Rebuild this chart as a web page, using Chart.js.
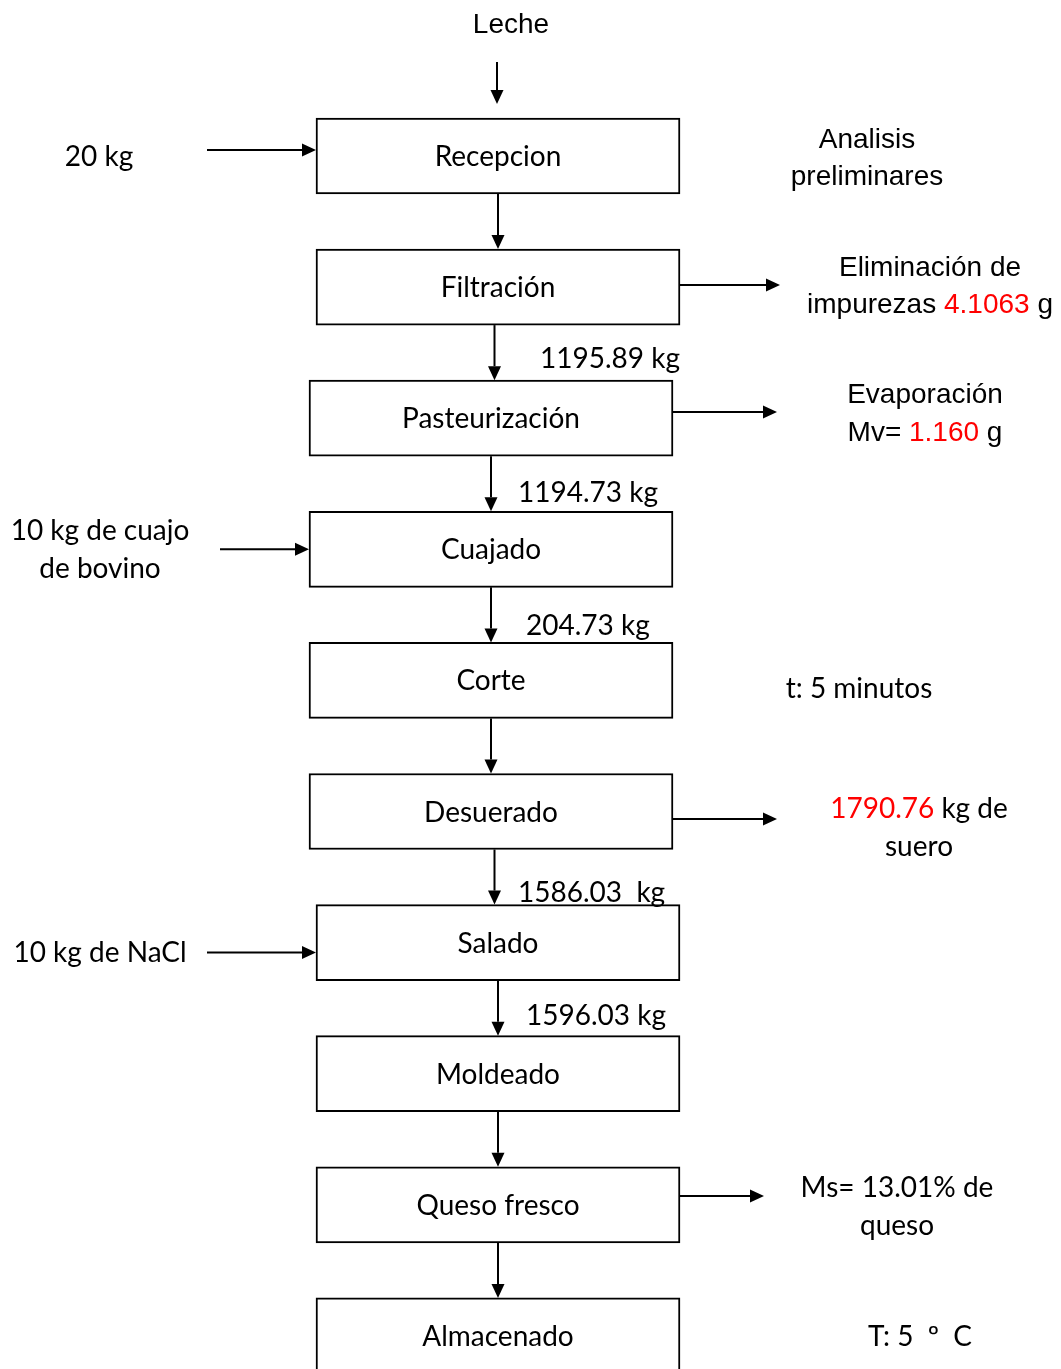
<!DOCTYPE html>
<html>
<head>
<meta charset="utf-8">
<script src="https://cdn.jsdelivr.net/npm/chart.js@4.4.1/dist/chart.umd.min.js"></script>
<style>
  html, body { margin: 0; padding: 0; background: #fff; }
  #wrap { width: 1061px; height: 1369px; }
</style>
</head>
<body>
<div id="wrap"><canvas id="flow" width="1061" height="1369"></canvas></div>
<script>
// Process steps (one box each, top to bottom)
const steps = ['Recepcion', 'Filtración', 'Pasteurización', 'Cuajado', 'Corte',
               'Desuerado', 'Salado', 'Moldeado', 'Queso fresco', 'Almacenado'];

// Mass carried on the arrow into step i+1
const flowLabels = ['', '1195.89 kg', '1194.73 kg', '204.73 kg', '', '1586.03  kg', '1596.03 kg', '', ''];

// Inputs on the left: step index and text lines
const inputRows = [0, 3, 6];
const inputTexts = [['20 kg'], ['10 kg de cuajo', 'de bovino'], ['10 kg de NaCl']];

// Notes on the right: step index, whether an arrow points to it, lines as [text, red?] segments
const noteRows = [0, 1, 2, 4, 5, 8, 9];
const noteArrows = [false, true, true, false, true, true, false];
const noteTexts = [
  [[['Analisis', 0]], [['preliminares', 0]]],
  [[['Eliminación de', 0]], [['impurezas ', 0], ['4.1063', 1], [' g', 0]]],
  [[['Evaporación', 0]], [['Mv= ', 0], ['1.160', 1], [' g', 0]]],
  [[['t: 5 minutos', 0]]],
  [[['1790.76', 1], [' kg de', 0]], [['suero', 0]]],
  [[['Ms= 13.01% de', 0]], [['queso', 0]]],
  [[['T: 5  º  C', 0]]]
];

// ---- layout (pixels in the chart's own value space) ----
const W = 1061, H = 1369;
const rowTop = i => 118 + i * 131.1;
const boxH = 76, boxW = 364;
const boxLeft = i => (i >= 2 && i <= 5) ? 309 : 316;
const boxCx = i => boxLeft(i) + boxW / 2;
const inLayout = [{x0: 207, dy: -6, tx: 99, ty: [1]}, {x0: 220, dy: 0, tx: 100, ty: [-18, 20]}, {x0: 207, dy: 10, tx: 100, ty: [10]}];
const noteLayout = [
  {x1: 0, ay: 0, tx: 867, ty: [140, 177], arial: true},
  {x1: 780, ay: 285, tx: 930, ty: [268, 305], arial: true},
  {x1: 777, ay: 412, tx: 925, ty: [395, 433], arial: true},
  {x1: 0, ay: 0, tx: 859, ty: [689], arial: false},
  {x1: 777, ay: 819, tx: 919, ty: [809, 847], arial: false},
  {x1: 764, ay: 1196, tx: 897, ty: [1188, 1226], arial: false},
  {x1: 0, ay: 0, tx: 920, ty: [1337], arial: false}
];
const flowLabelX = [0, 540, 518, 526, 0, 518, 526, 0, 0];
const flowLabelY = [0, 359, 493, 626, 0, 893, 1016, 0, 0];

const bodyFont = '28px Lato, "Open Sans", sans-serif';
const arialFont = '28px "Liberation Sans", Arial, sans-serif';
const RED = '#ff0000';

function arrow(ctx, sx, sy, x1, y1, x2, y2) {
  const ax = sx.getPixelForValue(x1), ay = sy.getPixelForValue(y1);
  const bx = sx.getPixelForValue(x2), by = sy.getPixelForValue(y2);
  const ang = Math.atan2(by - ay, bx - ax);
  const len = 14, half = 6.5;
  ctx.beginPath();
  ctx.moveTo(ax, ay);
  ctx.lineTo(bx - len * Math.cos(ang), by - len * Math.sin(ang));
  ctx.stroke();
  ctx.beginPath();
  ctx.moveTo(bx, by);
  ctx.lineTo(bx - len * Math.cos(ang) - half * Math.sin(ang), by - len * Math.sin(ang) + half * Math.cos(ang));
  ctx.lineTo(bx - len * Math.cos(ang) + half * Math.sin(ang), by - len * Math.sin(ang) - half * Math.cos(ang));
  ctx.closePath();
  ctx.fill();
}

function richLine(ctx, segs, cx, y) {
  const total = segs.reduce((s, g) => s + ctx.measureText(g[0]).width, 0);
  let x = cx - total / 2;
  ctx.textAlign = 'left';
  segs.forEach(g => {
    ctx.fillStyle = g[1] ? RED : '#000';
    ctx.fillText(g[0], x, y);
    x += ctx.measureText(g[0]).width;
  });
}

const flowPlugin = {
  id: 'flowPlugin',
  afterDatasetsDraw(chart) {
    const ctx = chart.ctx;
    const sx = chart.scales.x, sy = chart.scales.y;
    const px = v => sx.getPixelForValue(v), py = v => sy.getPixelForValue(v);
    ctx.save();
    ctx.strokeStyle = '#000';
    ctx.fillStyle = '#000';
    ctx.lineWidth = 2;
    ctx.textBaseline = 'middle';

    // top input
    ctx.font = arialFont;
    ctx.textAlign = 'center';
    ctx.fillText('Leche', px(511), py(25));
    arrow(ctx, sx, sy, 497, 62, 497, 104);

    // box labels
    ctx.font = bodyFont;
    steps.forEach((s, i) => {
      ctx.fillStyle = '#000';
      ctx.textAlign = 'center';
      ctx.fillText(s, px(boxCx(i)), py(rowTop(i) + boxH / 2 + 1));
    });

    // vertical arrows + flow labels
    for (let i = 0; i < steps.length - 1; i++) {
      const x = (boxCx(i) + boxCx(i + 1)) / 2;
      arrow(ctx, sx, sy, x, rowTop(i) + boxH, x, rowTop(i + 1));
      if (flowLabels[i]) {
        ctx.textAlign = 'left';
        ctx.fillText(flowLabels[i], px(flowLabelX[i]), py(flowLabelY[i]));
      }
    }

    // inputs
    inputRows.forEach((r, k) => {
      const L = inLayout[k];
      const cy = rowTop(r) + boxH / 2;
      arrow(ctx, sx, sy, L.x0, cy + L.dy, boxLeft(r), cy + L.dy);
      ctx.textAlign = 'center';
      inputTexts[k].forEach((t, j) => ctx.fillText(t, px(L.tx), py(cy + L.ty[j])));
    });

    // notes
    noteRows.forEach((r, k) => {
      const L = noteLayout[k];
      if (noteArrows[k]) arrow(ctx, sx, sy, boxLeft(r) + boxW, L.ay, L.x1, L.ay);
      ctx.font = L.arial ? arialFont : bodyFont;
      noteTexts[k].forEach((segs, j) => richLine(ctx, segs, px(L.tx), py(L.ty[j])));
      ctx.fillStyle = '#000';
    });
    ctx.restore();
  }
};

new Chart(document.getElementById('flow'), {
  type: 'bar',
  data: {
    datasets: [{
      label: 'steps',
      data: steps.map((s, i) => ({ y: rowTop(i) + boxH / 2, x: [boxLeft(i), boxLeft(i) + boxW] })),
      backgroundColor: '#fff',
      borderColor: '#000',
      borderWidth: 2,
      borderSkipped: false,
      barThickness: boxH
    }]
  },
  options: {
    indexAxis: 'y',
    responsive: false,
    animation: false,
    layout: { padding: 0 },
    plugins: { legend: { display: false }, tooltip: { enabled: false } },
    scales: {
      x: { type: 'linear', min: 0, max: W, offset: false, display: false },
      y: { type: 'linear', min: 0, max: H, reverse: true, offset: false, display: false }
    }
  },
  plugins: [flowPlugin]
});
</script>
</body>
</html>
